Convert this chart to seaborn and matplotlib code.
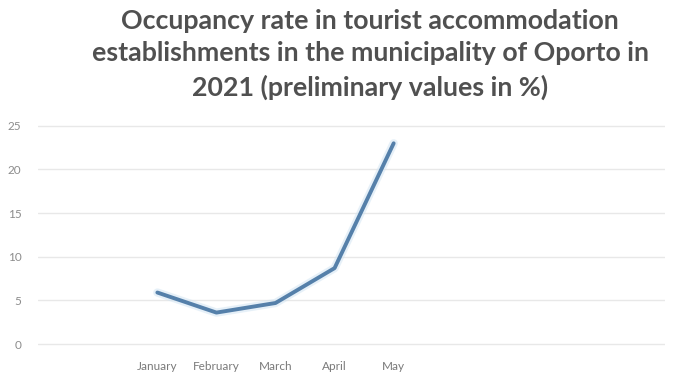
import matplotlib
matplotlib.use("Agg")
import matplotlib.pyplot as plt
import seaborn as sns
import pandas as pd

months = ["January", "February", "March", "April", "May"]
occupancy = [5.9, 3.6, 4.7, 8.7, 23.0]
y_ticks = [0, 5, 10, 15, 20, 25]
title = ("Occupancy rate in tourist accommodation\n"
         "establishments in the municipality of Oporto in\n"
         "2021 (preliminary values in %)")

df = pd.DataFrame({"month": months, "pos": range(len(months)), "rate": occupancy})

sns.set_theme(style="white")
plt.rcParams["font.family"] = ["Lato", "DejaVu Sans"]

fig = plt.figure(figsize=(6.79, 3.78), dpi=100)
ax = fig.add_axes([0.056, 0.083, 0.924, 0.591])

for y in y_ticks:
    ax.axhline(y, color="#e8e8e8", lw=1.0, zorder=0)

# faint halo under the line
sns.lineplot(data=df, x="pos", y="rate", ax=ax, color="#cfe3f2", lw=6, alpha=0.5,
             zorder=2, legend=False)
sns.lineplot(data=df, x="pos", y="rate", ax=ax, color="#5580aa", lw=2.8,
             zorder=3, legend=False)

ax.set_xlim(-2.02, 8.6)
ax.set_ylim(-0.3, 25.3)
ax.set_yticks(y_ticks)
ax.set_yticklabels([str(v) for v in y_ticks], color="#8c8c8c", fontsize=8.5)
ax.set_xticks(range(len(months)))
ax.set_xticklabels(months, color="#7a7a7a", fontsize=8.5)
ax.tick_params(axis="y", length=0, pad=12)
ax.tick_params(axis="x", length=0, pad=10)
ax.set_xlabel("")
ax.set_ylabel("")
for s in ax.spines.values():
    s.set_visible(False)

fig.text(0.545, 0.976, title, ha="center", va="top", fontsize=19.3,
         fontweight="bold", color="#505050", linespacing=1.42)

fig.savefig("out.png", dpi=100, facecolor="white")
